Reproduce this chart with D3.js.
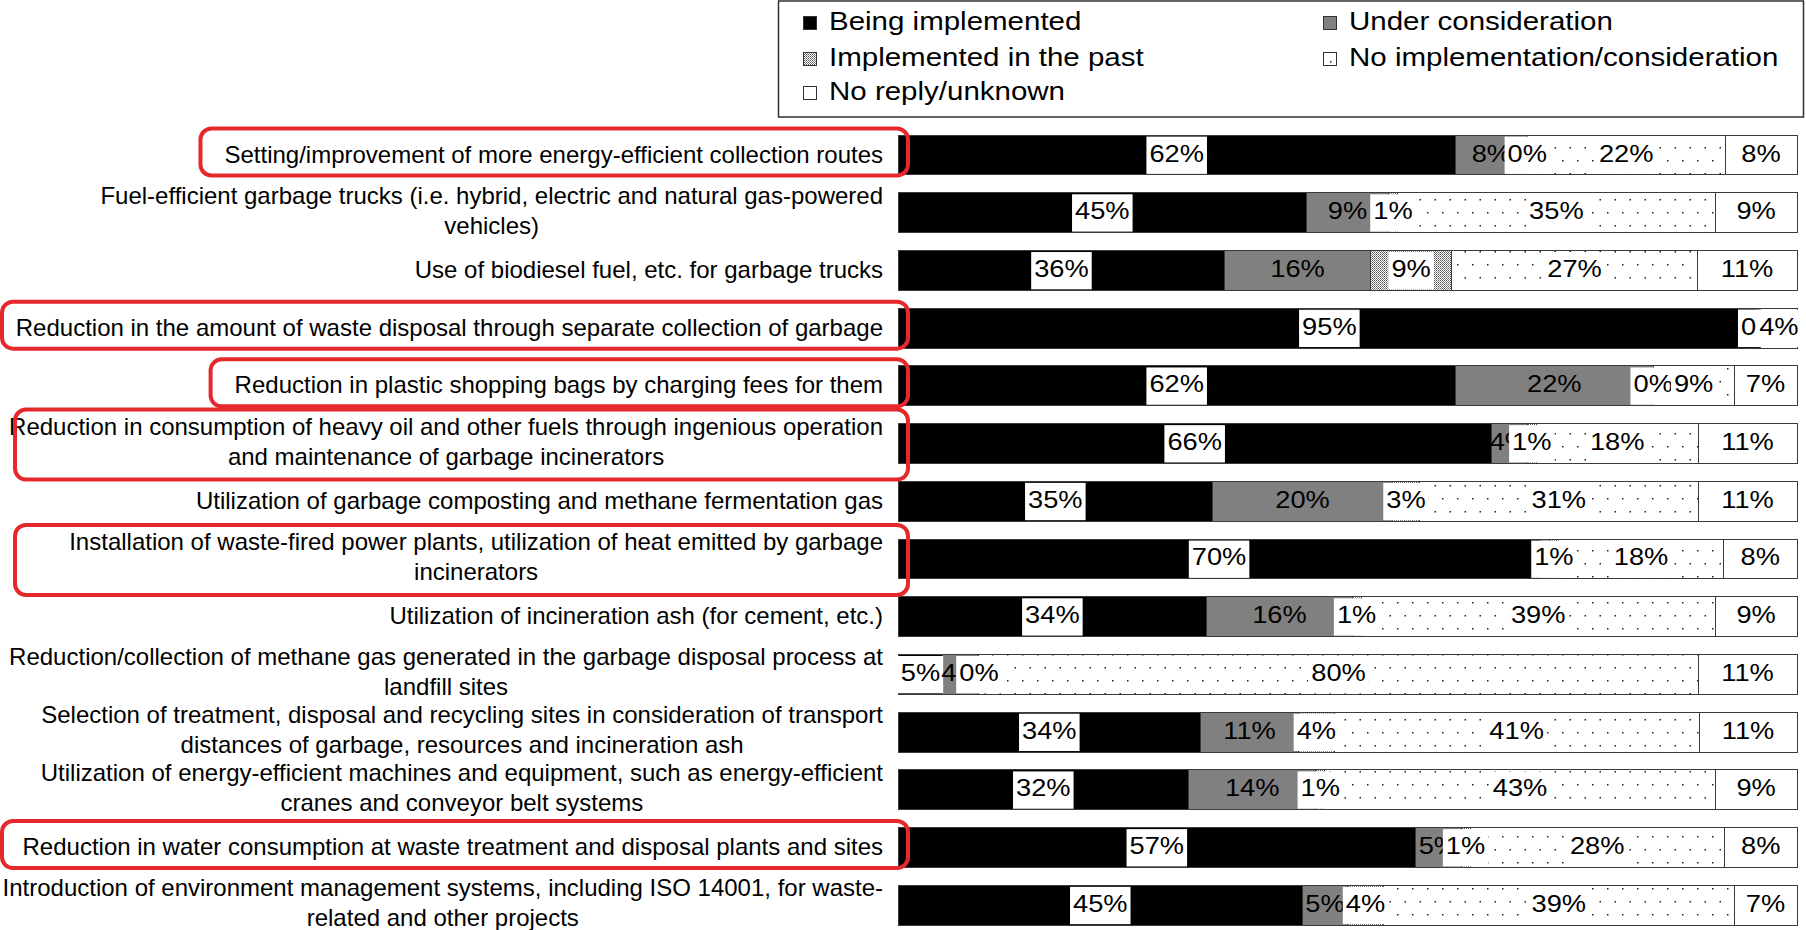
<!DOCTYPE html>
<html>
<head>
<meta charset="utf-8">
<script src="https://cdn.jsdelivr.net/npm/d3@7"></script>
<style>
  html, body { margin: 0; padding: 0; background: #fff; }
  svg { display: block; }
  text { font-family: "Liberation Sans", Arial, sans-serif; fill: #000; }
</style>
</head>
<body>
<svg id="chart" width="1806" height="930"></svg>
<script>
// Category labels, one entry per bar (each entry = lines of the wrapped label)
var categories = [
    ["Setting/improvement of more energy-efficient collection routes"],
    ["Fuel-efficient garbage trucks (i.e. hybrid, electric and natural gas-powered", "vehicles)"],
    ["Use of biodiesel fuel, etc. for garbage trucks"],
    ["Reduction in the amount of waste disposal through separate collection of garbage"],
    ["Reduction in plastic shopping bags by charging fees for them"],
    ["Reduction in consumption of heavy oil and other fuels through ingenious operation", "and maintenance of garbage incinerators"],
    ["Utilization of garbage composting and methane fermentation gas"],
    ["Installation of waste-fired power plants, utilization of heat emitted by garbage", "incinerators"],
    ["Utilization of incineration ash (for cement, etc.)"],
    ["Reduction/collection of methane gas generated in the garbage disposal process at", "landfill sites"],
    ["Selection of treatment, disposal and recycling sites in consideration of transport", "distances of garbage, resources and incineration ash"],
    ["Utilization of energy-efficient machines and equipment, such as energy-efficient", "cranes and conveyor belt systems"],
    ["Reduction in water consumption at waste treatment and disposal plants and sites"],
    ["Introduction of environment management systems, including ISO 14001, for waste-", "related and other projects"]
];

var seriesNames = ["Being implemented", "Under consideration", "Implemented in the past",
                   "No implementation/consideration", "No reply/unknown"];

// Percentages per series (same order as categories); each bar is scaled to 100%
var beingImplemented   = [62, 45, 36, 95, 62, 66, 35, 70, 34,  5, 34, 32, 57, 45];
var underConsideration = [ 8,  9, 16,  0, 22,  4, 20,  1, 16,  4, 11, 14,  5,  5];
var implementedPast    = [ 0,  1,  9,  0,  0,  1,  3,  1,  1,  0,  4,  1,  1,  4];
var noImplementation   = [22, 35, 27,  0,  9, 18, 31, 18, 39, 80, 41, 43, 28, 39];
var noReply            = [ 8,  9, 11,  4,  7, 11, 11,  8,  9, 11, 11,  9,  8,  7];

// Rows circled in red in the original
var highlighted = [0, 3, 4, 5, 7, 12];

var keys = ["s0", "s1", "s2", "s3", "s4"];
var table = categories.map(function (c, i) {
    return { idx: i, s0: beingImplemented[i], s1: underConsideration[i], s2: implementedPast[i],
             s3: noImplementation[i], s4: noReply[i] };
});

var svg = d3.select("#chart");
var defs = svg.append("defs");

// fine stipple for "implemented in the past"
var p1 = defs.append("pattern").attr("id", "pastPat").attr("patternUnits", "userSpaceOnUse")
    .attr("width", 2).attr("height", 2);
p1.append("rect").attr("width", 2).attr("height", 2).attr("fill", "#fff");
p1.append("rect").attr("width", 1).attr("height", 1).attr("fill", "#555");
p1.append("rect").attr("x", 1).attr("y", 1).attr("width", 1).attr("height", 1).attr("fill", "#888");

// sparse dots for "no implementation"
var p2 = defs.append("pattern").attr("id", "dotPat").attr("patternUnits", "userSpaceOnUse")
    .attr("width", 15).attr("height", 26);
p2.append("rect").attr("width", 15).attr("height", 26).attr("fill", "#fff");
p2.append("rect").attr("x", 2).attr("y", 4).attr("width", 1.5).attr("height", 1.5).attr("fill", "#222");
p2.append("rect").attr("x", 9.5).attr("y", 17).attr("width", 1.5).attr("height", 1.5).attr("fill", "#222");

var fills = ["#000000", "#808080", "url(#pastPat)", "url(#dotPat)", "#ffffff"];

var x = d3.scaleLinear().domain([0, 1]).range([898, 1797]);
var y = d3.scaleBand().domain(d3.range(categories.length))
    .range([126.15, 934.1]).paddingInner(0.31).paddingOuter(0.155);
var bw = y.bandwidth();

var stack = d3.stack().keys(keys).offset(d3.stackOffsetExpand);
var stacked = stack(table);

// Bars
var layers = svg.append("g").attr("shape-rendering", "crispEdges")
    .selectAll("g").data(stacked).enter().append("g")
    .attr("fill", function (d, i) { return fills[i]; });

layers.selectAll("rect").data(function (d) { return d; }).enter().append("rect")
    .attr("x", function (d) { return x(d[0]); })
    .attr("y", function (d) { return y(d.data.idx); })
    .attr("width", function (d) { return Math.max(0, x(d[1]) - x(d[0])); })
    .attr("height", bw)
    .attr("stroke", "#3a3a3a")
    .attr("stroke-width", 1);

// Data labels (white boxes except on grey segments)
var lblSize = 23.5, lblScale = 1.16;
stacked.forEach(function (layer, si) {
    layer.forEach(function (d) {
        var val = d.data[keys[si]];
        var cx = x((d[0] + d[1]) / 2);
        var cy = y(d.data.idx) + bw / 2;
        var g = svg.append("g").attr("transform", "translate(" + cx + "," + cy + ")");
        var box = g.append("rect").attr("fill", "#fff");
        var inner = g.append("g").attr("transform", "scale(" + lblScale + ",1)");
        var t = inner.append("text")
            .attr("text-anchor", "middle")
            .attr("y", 6.5)
            .style("font-size", lblSize + "px")
            .text(val + "%");
        var w = t.node().getComputedTextLength() * lblScale + 6;
        if (si === 1) {
            box.remove();
        } else {
            box.attr("x", -w / 2).attr("width", w)
                .attr("y", -bw / 2 + 1.5).attr("height", bw - 2.5);
        }
    });
});

// Category labels
var labelRight = 883;
var labelGroups = svg.append("g").selectAll("g").data(categories).enter().append("g");
labelGroups.each(function (lines, i) {
    var g = d3.select(this);
    var cy = y(i) + bw / 2;
    var first = g.append("text")
        .attr("x", labelRight)
        .attr("y", lines.length > 1 ? cy - 9 : cy + 7.5)
        .attr("text-anchor", "end")
        .style("font-size", "24px")
        .text(lines[0]);
    var w = first.node().getComputedTextLength();
    for (var k = 1; k < lines.length; k++) {
        g.append("text")
            .attr("x", labelRight - w / 2)
            .attr("y", cy - 9 + 30 * k)
            .attr("text-anchor", "middle")
            .style("font-size", "24px")
            .text(lines[k]);
    }
});

// Red highlight boxes
highlighted.forEach(function (i) {
    var node = labelGroups.nodes()[i];
    var bb = node.getBBox();
    var lines = categories[i].length;
    var cy = y(i) + bw / 2;
    var left = lines > 1 ? 15 : Math.max(2, bb.x - 24);
    var h = lines > 1 ? 70 : 47;
    var top = lines > 1 ? cy + 1 - h / 2 : cy - 3 - h / 2;
    svg.append("rect")
        .attr("x", left).attr("y", top)
        .attr("width", 908 - left).attr("height", h)
        .attr("rx", 11).attr("ry", 11)
        .attr("fill", "none")
        .attr("stroke", "#e5282c")
        .attr("stroke-width", 4);
});

// Legend
var legend = svg.append("g");
legend.append("rect")
    .attr("x", 778.5).attr("y", 1).attr("width", 1025).attr("height", 116)
    .attr("fill", "#fff").attr("stroke", "#333").attr("stroke-width", 1.5);

var legCols = [803, 1323], legRows = [30, 66, 100];
var legPos = [[0, 0], [1, 0], [0, 1], [1, 1], [0, 2]];
var legScale = 1.18;
seriesNames.forEach(function (name, i) {
    var sx = legCols[legPos[i][0]], by = legRows[legPos[i][1]];
    legend.append("rect")
        .attr("x", sx).attr("y", by - 14).attr("width", 13).attr("height", 13)
        .attr("fill", fills[i]).attr("stroke", "#333").attr("stroke-width", 1)
        .attr("shape-rendering", "crispEdges");
    if (i === 3) {
        legend.append("rect").attr("x", sx + 7).attr("y", by - 5).attr("width", 1.5).attr("height", 1.5).attr("fill", "#222");
    }
    legend.append("g")
        .attr("transform", "translate(" + (sx + 26) + "," + by + ") scale(" + legScale + ",1)")
        .append("text")
        .style("font-size", "25px")
        .text(name);
});
</script>
</body>
</html>
